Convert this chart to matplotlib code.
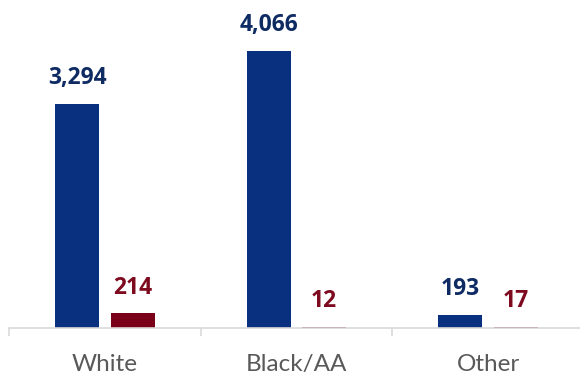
import matplotlib
matplotlib.use("Agg")
import matplotlib.pyplot as plt
import numpy as np

categories = ["White", "Black/AA", "Other"]
series_a = [3294, 4066, 193]
series_b = [214, 12, 17]

navy = "#08307E"
navy_txt = "#0F2B63"
red = "#7A0019"
red_txt = "#7D0A1F"

fig = plt.figure(figsize=(5.8, 3.75), dpi=100)
ax = fig.add_axes([9/580, 47/375, 1 - 9/580, 328/375])

x = np.arange(len(categories))
w = 0.23
off = 0.145
ba = ax.bar(x - off, series_a, width=w, color=navy)
bb = ax.bar(x + off, series_b, width=w, color=red)

for rect, v in zip(ba, series_a):
    ax.annotate(f"{v:,}", (rect.get_x() + rect.get_width()/2, rect.get_height()),
                xytext=(0, 10), textcoords="offset points", ha="center", va="bottom",
                fontsize=16.5, fontweight="bold", color=navy_txt, family="Open Sans")
for rect, v in zip(bb, series_b):
    ax.annotate(f"{v:,}", (rect.get_x() + rect.get_width()/2, rect.get_height()),
                xytext=(0, 10), textcoords="offset points", ha="center", va="bottom",
                fontsize=16.5, fontweight="bold", color=red_txt, family="Open Sans")

ax.set_xlim(-0.5, 2.48)
ax.set_ylim(0, 4066 * 328 / 277)

for s in ["top", "right", "left"]:
    ax.spines[s].set_visible(False)
ax.spines["bottom"].set_color("#D9D9D9")
ax.spines["bottom"].set_linewidth(1.2)
ax.set_yticks([])

ax.set_xticks([-0.5, 0.5, 1.5])
ax.set_xticklabels([])
ax.tick_params(axis="x", which="major", length=6, color="#D9D9D9", width=1.2)
ax.set_xticks(x, minor=True)
ax.set_xticklabels(categories, minor=True, fontsize=17.5, color="#595959", family="Lato")
ax.tick_params(axis="x", which="minor", length=0, pad=19)

fig.savefig("out.png", dpi=100)
